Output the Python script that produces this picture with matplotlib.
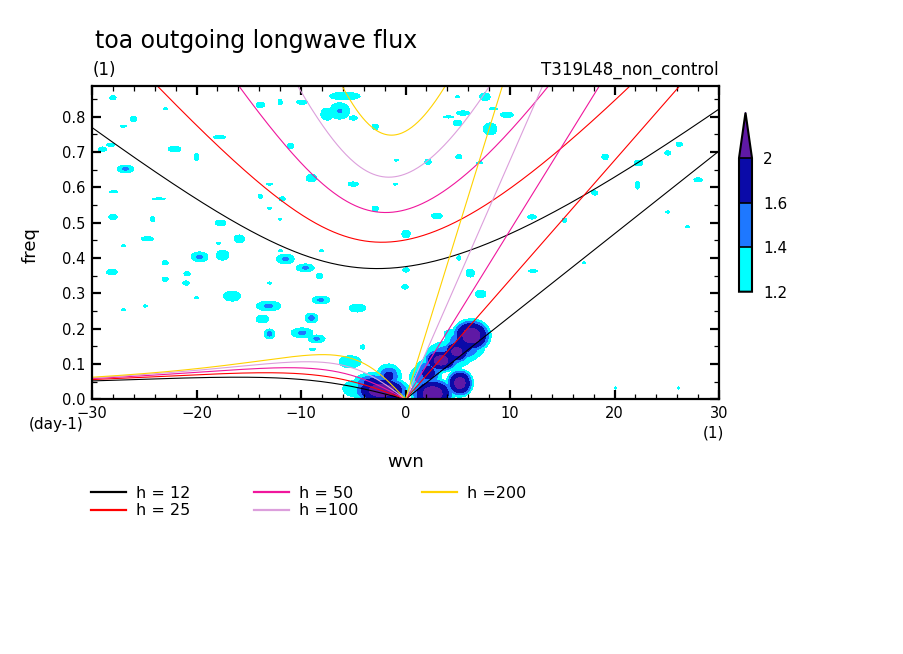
import numpy as np
import matplotlib.pyplot as plt
from matplotlib.colors import ListedColormap
from matplotlib.lines import Line2D

# equivalent depths (m) of the dispersion curves
depths = [12, 25, 50, 100, 200]
depth_labels = ['h = 12', 'h = 25', 'h = 50', 'h =100', 'h =200']
depth_colors = ['black', 'red', '#f0169c', '#dc9fdc', '#ffd200']

# shading
levels = [1.2, 1.4, 1.6, 2.0]
level_labels = ['1.2', '1.4', '1.6', '2']
shade_colors = ['#00ffff', '#1e78ff', '#0a0aa8']
over_color = '#5f19a5'

# patches of the signal/background ratio:
# wavenumber, frequency (cpd), half-widths, peak value
blob_k = [-28.0, -26.0, -27.0, -29.0, -28.2, -26.8, -27.9, -23.6, -28.0, -24.2,
          -24.7, -27.0, -28.1, -19.7, -17.5, -23.0, -20.9, -23.0, -21.0, -16.6,
          -20.0, -24.9, -27.0, -13.1, -13.7, -13.0, -9.0, -8.1, -4.6, -9.9,
          -8.5, -11.5, -9.6, -8.2, -12.0, -13.0, -8.0, -17.7, -15.9, -17.9,
          -13.0, -13.9, -11.8, -13.0, -12.0, -20.0, -22.1, -9.0, -5.0, -2.9,
          0.05, 0.05, -0.05, -0.9, -1.0, -4.1, -8.9, -23.0, -17.8, -13.9,
          -12.0, -9.9, -7.5, -11.0, -5.8, -6.3, -5.0, -2.9, 2.15, 5.0,
          5.5, 5.0, 4.1, 7.6, 8.1, 9.7, 8.4, 5.1, 7.1, 19.1,
          22.3, 25.1, 26.2, 22.2, 28.0, 18.1, 3.0, 5.1, 6.2, 7.2,
          12.1, 15.2, 12.2, 27.0, 25.1, 20.1, 26.1, 17.1,
          6.3, 3.4, 4.9, 2.6, 5.2, 4.3, 1.4, 2.2, 6.6, 5.6, 4.2,
          -2.3, -1.6, -5.3, -4.6, -0.6, -3.2]
blob_f = [0.853, 0.793, 0.773, 0.708, 0.720, 0.652, 0.587, 0.567, 0.516, 0.510,
          0.454, 0.434, 0.360, 0.403, 0.408, 0.386, 0.355, 0.340, 0.329, 0.292,
          0.287, 0.264, 0.253, 0.264, 0.227, 0.185, 0.230, 0.281, 0.258, 0.188,
          0.171, 0.397, 0.372, 0.349, 0.420, 0.329, 0.420, 0.499, 0.454, 0.442,
          0.609, 0.575, 0.567, 0.541, 0.510, 0.686, 0.708, 0.626, 0.609, 0.539,
          0.468, 0.366, 0.318, 0.677, 0.609, 0.148, 0.142, 0.822, 0.742, 0.833,
          0.841, 0.841, 0.807, 0.717, 0.858, 0.816, 0.796, 0.771, 0.672, 0.856,
          0.810, 0.782, 0.799, 0.856, 0.765, 0.805, 0.822, 0.686, 0.669, 0.686,
          0.669, 0.697, 0.722, 0.606, 0.621, 0.584, 0.519, 0.400, 0.357, 0.298,
          0.516, 0.507, 0.363, 0.488, 0.530, 0.032, 0.032, 0.386,
          0.180, 0.110, 0.135, 0.016, 0.046, 0.185, 0.062, 0.075, 0.150, 0.155, 0.125,
          0.025, 0.065, 0.106, 0.030, 0.012, 0.045]
blob_dk = [0.3, 0.3, 0.3, 0.4, 0.4, 0.8, 0.4, 0.6, 0.4, 0.2,
           0.6, 0.2, 0.5, 0.8, 0.6, 0.3, 0.3, 0.3, 0.3, 0.8,
           0.2, 0.2, 0.2, 1.15, 0.6, 0.5, 0.6, 0.85, 0.8, 1.05,
           0.8, 0.85, 0.85, 0.3, 0.2, 0.2, 0.2, 0.5, 0.5, 0.2,
           0.3, 0.2, 0.3, 0.2, 0.15, 0.2, 0.6, 0.5, 0.5, 0.3,
           0.4, 0.3, 0.3, 0.2, 0.2, 0.2, 0.3, 0.2, 0.6, 0.4,
           0.2, 0.5, 0.6, 0.3, 1.45, 0.95, 0.4, 0.3, 0.3, 0.2,
           0.6, 0.4, 0.5, 0.5, 0.65, 0.6, 0.4, 0.3, 0.3, 0.3,
           0.4, 0.3, 0.3, 0.2, 0.4, 0.3, 0.5, 0.2, 0.4, 0.5,
           0.4, 0.2, 0.4, 0.2, 0.2, 0.12, 0.12, 0.12,
           1.9, 1.7, 1.4, 2.1, 1.3, 0.6, 1.0, 1.3, 1.0, 1.9, 2.2,
           2.7, 1.2, 1.05, 1.4, 0.8, 1.8]
blob_df = [0.006, 0.008, 0.003, 0.006, 0.004, 0.011, 0.003, 0.003, 0.008, 0.008,
           0.006, 0.003, 0.008, 0.014, 0.014, 0.006, 0.006, 0.006, 0.006, 0.014,
           0.003, 0.003, 0.003, 0.014, 0.011, 0.014, 0.014, 0.011, 0.011, 0.014,
           0.011, 0.014, 0.011, 0.008, 0.003, 0.003, 0.003, 0.008, 0.011, 0.003,
           0.003, 0.006, 0.006, 0.003, 0.003, 0.011, 0.008, 0.011, 0.006, 0.008,
           0.011, 0.006, 0.006, 0.003, 0.003, 0.006, 0.003, 0.003, 0.004, 0.008,
           0.008, 0.006, 0.017, 0.008, 0.011, 0.023, 0.006, 0.008, 0.008, 0.003,
           0.006, 0.008, 0.003, 0.011, 0.017, 0.008, 0.003, 0.006, 0.003, 0.008,
           0.008, 0.006, 0.006, 0.011, 0.006, 0.006, 0.008, 0.006, 0.011, 0.011,
           0.006, 0.006, 0.004, 0.003, 0.003, 0.003, 0.003, 0.003,
           0.048, 0.034, 0.034, 0.045, 0.04, 0.012, 0.032, 0.04, 0.03, 0.05, 0.04,
           0.04, 0.035, 0.017, 0.024, 0.02, 0.03]
blob_peak = [1.3, 1.3, 1.3, 1.3, 1.3, 1.5, 1.3, 1.3, 1.3, 1.3,
             1.3, 1.25, 1.3, 1.5, 1.3, 1.3, 1.3, 1.3, 1.3, 1.3,
             1.25, 1.25, 1.25, 1.5, 1.3, 1.55, 1.55, 1.5, 1.3, 1.5,
             1.5, 1.5, 1.5, 1.3, 1.25, 1.25, 1.25, 1.3, 1.3, 1.25,
             1.25, 1.25, 1.3, 1.25, 1.25, 1.3, 1.3, 1.3, 1.3, 1.3,
             1.3, 1.3, 1.3, 1.25, 1.25, 1.3, 1.25, 1.25, 1.3, 1.3,
             1.3, 1.3, 1.3, 1.3, 1.3, 1.45, 1.3, 1.3, 1.3, 1.25,
             1.3, 1.3, 1.25, 1.3, 1.3, 1.3, 1.25, 1.3, 1.25, 1.3,
             1.3, 1.3, 1.3, 1.3, 1.3, 1.3, 1.3, 1.3, 1.3, 1.3,
             1.3, 1.3, 1.3, 1.25, 1.25, 1.25, 1.25, 1.25,
             2.6, 2.5, 2.4, 2.6, 2.5, 1.3, 1.6, 1.9, 1.5, 1.9, 1.75,
             2.6, 1.8, 1.3, 1.35, 1.6, 1.9]

# field on a wavenumber / frequency grid
wvn = np.arange(-30, 30.001, 0.05)
freq = np.arange(0, 0.8885, 0.0015)
K, F = np.meshgrid(wvn, freq)
field = np.zeros_like(K)
for k0, f0, dk, df, pk in zip(blob_k, blob_f, blob_dk, blob_df, blob_peak):
    r = np.sqrt(((K - k0) / dk) ** 2 + ((F - f0) / df) ** 2)
    field = np.maximum(field, pk - (pk - 1.2) * r)

fig = plt.figure(figsize=(9.04, 6.54), dpi=100)
ax = fig.add_axes([92 / 904, 1 - 399.3 / 654, 627 / 904, 313.8 / 654])

cmap = ListedColormap(shade_colors)
cmap.set_over(over_color)
cs = ax.contourf(wvn, freq, field, levels=levels, cmap=cmap, extend='max')

# shallow water dispersion curves (Kelvin, n=1 ER, n=1 IG)
g = 9.81
re = 6.371e6
beta = 2 * 7.292e-5 / re
s = np.linspace(-30, 30, 601)
k = s / re
to_cpd = 86400 / (2 * np.pi)
for h, col in zip(depths, depth_colors):
    c = np.sqrt(g * h)
    pos = s >= 0
    ax.plot(s[pos], c * k[pos] * to_cpd, color=col, lw=0.8)
    neg = s <= 0
    kn = k[neg]
    ax.plot(s[neg], -beta * kn / (kn ** 2 + 3 * beta / c) * to_cpd, color=col, lw=0.8)
    w_ig = [np.max(np.roots([1, 0, -(c ** 2 * kk ** 2 + 3 * beta * c), -beta * c ** 2 * kk]).real)
            for kk in k]
    ax.plot(s, np.array(w_ig) * to_cpd, color=col, lw=0.8)

ax.set_xlim(-30, 30)
ax.set_ylim(0, 0.888)
ax.set_xticks(np.arange(-30, 31, 10))
ax.set_xticks(np.arange(-30, 31, 2), minor=True)
ax.set_yticks(np.arange(0, 0.81, 0.1))
ax.set_yticks(np.arange(0, 0.88, 0.05), minor=True)
ax.set_yticklabels(['%.1f' % v for v in np.arange(0, 0.81, 0.1)])
ax.tick_params(which='both', direction='in', top=True, right=True, labelsize=10.5)
ax.tick_params(which='major', length=6.5, width=1.6, pad=5)
ax.tick_params(which='minor', length=3.5, width=0.9)
for sp in ax.spines.values():
    sp.set_linewidth(1.6)

ax.set_ylabel('freq', fontsize=13)
ax.yaxis.set_label_coords(-0.083, 0.49)
ax.set_xlabel('wvn', fontsize=13)
ax.xaxis.set_label_coords(0.5, -0.17)

fig.text(95 / 904, 1 - 48 / 654, 'toa outgoing longwave flux', fontsize=17, va='baseline')
fig.text(93 / 904, 1 - 70 / 654, '(1)', fontsize=12, va='center')
fig.text(719 / 904, 1 - 70 / 654, 'T319L48_non_control', fontsize=12, va='center', ha='right')
fig.text(84 / 904, 1 - 424 / 654, '(day-1)', fontsize=11, va='center', ha='right')
fig.text(713 / 904, 1 - 433 / 654, '(1)', fontsize=11, va='center', ha='center')

# colorbar
cax = fig.add_axes([739 / 904, 1 - 291.7 / 654, 13 / 904, 179 / 654])
cb = fig.colorbar(cs, cax=cax, extendfrac=0.34, drawedges=True)
cb.set_ticks(levels)
cb.set_ticklabels(level_labels)
cb.ax.tick_params(length=0, labelsize=11, pad=8)
cb.outline.set_linewidth(1.5)
cb.dividers.set_linewidth(1.2)

handles = [Line2D([], [], color=col, lw=1.6) for col in depth_colors]
fig.legend(handles, depth_labels, ncol=3, loc='upper left',
           bbox_to_anchor=(91 / 904, 1 - 486 / 654), frameon=False, fontsize=11.5,
           borderpad=0, borderaxespad=0, handlelength=2.2, handletextpad=0.6,
           columnspacing=4.0, labelspacing=0.15)

fig.savefig('out.png', dpi=100)
